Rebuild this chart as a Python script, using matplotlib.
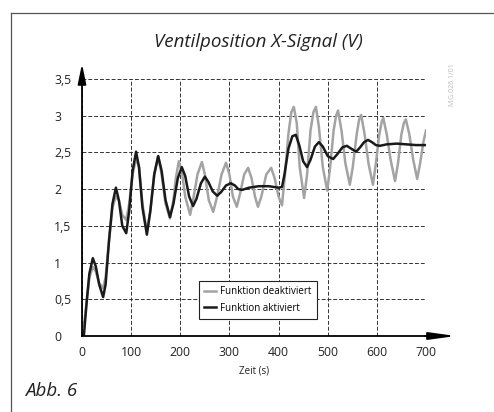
import matplotlib
matplotlib.use("Agg")
import matplotlib.pyplot as plt
from matplotlib.lines import Line2D

# Funktion aktiviert (schwarz)
t_on = [0, 4, 10, 15, 22, 28, 35, 43, 48, 55, 62, 69, 75, 82, 90, 96, 103, 110,
        116, 123, 132, 139, 147, 155, 162, 170, 179, 186, 195, 203, 210, 218, 226,
        233, 242, 250, 257, 266, 275, 283, 293, 303, 311, 318, 326, 340, 360, 380,
        400, 407, 412, 420, 428, 435, 442, 450, 458, 465, 474, 482, 490, 500, 511,
        520, 530, 539, 548, 558, 566, 574, 582, 590, 598, 606, 620, 641, 660, 680, 698]
y_on = [0.0, 0.02, 0.5, 0.85, 1.06, 0.95, 0.7, 0.53, 0.7, 1.3, 1.8, 2.02, 1.85, 1.5,
        1.40, 1.7, 2.25, 2.51, 2.3, 1.75, 1.38, 1.7, 2.2, 2.45, 2.25, 1.85, 1.62, 1.8,
        2.15, 2.30, 2.18, 1.9, 1.77, 1.87, 2.08, 2.17, 2.1, 1.97, 1.91, 1.96, 2.05,
        2.08, 2.05, 2.0, 1.99, 2.02, 2.04, 2.04, 2.02, 2.03, 2.2, 2.55, 2.72, 2.74,
        2.6, 2.38, 2.30, 2.4, 2.58, 2.64, 2.58, 2.45, 2.41, 2.48, 2.57, 2.59, 2.55,
        2.51, 2.57, 2.64, 2.67, 2.64, 2.6, 2.59, 2.61, 2.62, 2.61, 2.60, 2.60]

# Funktion deaktiviert (grau)
t_off = [0, 5, 10, 15, 22, 28, 35, 43, 48, 55, 62, 69, 75, 82, 90, 96, 103, 110,
         116, 123, 132, 139, 147, 155, 162, 170, 179, 186, 191, 197, 203, 210, 220,
         226, 235, 244, 250, 258, 267, 275, 284, 293, 300, 307, 315, 322, 330, 338,
         345, 352, 358, 365, 375, 385, 392, 400, 407, 413, 420, 426, 431, 437, 443,
         452, 458, 465, 471, 476, 482, 490, 499, 505, 512, 517, 521, 528, 536, 545,
         551, 559, 564, 568, 575, 583, 592, 598, 605, 610, 613, 620, 628, 637, 643,
         650, 655, 659, 666, 674, 682, 688, 695, 700]
y_off = [0.1, 0.2, 0.5, 0.8, 0.94, 0.88, 0.72, 0.65, 0.8, 1.3, 1.75, 1.9, 1.85,
         1.65, 1.58, 1.8, 2.2, 2.42, 2.3, 1.8, 1.42, 1.7, 2.2, 2.45, 2.2, 1.8, 1.6,
         1.85, 2.15, 2.38, 2.25, 1.9, 1.65, 1.85, 2.2, 2.37, 2.2, 1.85, 1.69, 1.9,
         2.2, 2.36, 2.2, 1.9, 1.76, 1.95, 2.2, 2.29, 2.15, 1.9, 1.76, 1.9, 2.2, 2.29,
         2.15, 1.9, 1.78, 2.2, 2.75, 3.05, 3.12, 2.9, 2.3, 1.88, 2.2, 2.8, 3.05, 3.12,
         2.85, 2.3, 1.98, 2.3, 2.8, 3.0, 3.07, 2.8, 2.35, 2.06, 2.3, 2.75, 2.95, 3.01,
         2.75, 2.35, 2.06, 2.35, 2.75, 2.92, 2.97, 2.75, 2.4, 2.11, 2.35, 2.75, 2.9,
         2.95, 2.75, 2.4, 2.14, 2.35, 2.65, 2.8]

x_ticks = [0, 100, 200, 300, 400, 500, 600, 700]
y_ticks = [0, 0.5, 1, 1.5, 2, 2.5, 3, 3.5]
y_ticklabels = ["0", "0,5", "1", "1,5", "2", "2,5", "3", "3,5"]

plt.rcParams["font.family"] = ["Open Sans", "DejaVu Sans"]

W, H = 494, 412
fig = plt.figure(figsize=(W / 100, H / 100), dpi=100)
ax = fig.add_axes([82 / W, 1 - 336 / H, 344 / W, 257 / H])

ax.plot(t_off, y_off, color="#a3a3a3", lw=1.8, label="Funktion deaktiviert",
        solid_joinstyle="round")
ax.plot(t_on, y_on, color="#1a1a1a", lw=1.8, label="Funktion aktiviert",
        solid_joinstyle="round")

ax.set_xlim(0, 700)
ax.set_ylim(0, 3.5)
ax.set_xticks(x_ticks)
ax.set_yticks(y_ticks)
ax.set_yticklabels(y_ticklabels)
ax.tick_params(length=0, labelsize=8.8, colors="#222222")
ax.tick_params(axis="x", pad=7)
ax.tick_params(axis="y", pad=20)
for lbl in ax.get_yticklabels():
    lbl.set_horizontalalignment("left")
ax.grid(True, color="#333333", linestyle=(0, (4, 2)), linewidth=0.7)
for s in ["top", "right"]:
    ax.spines[s].set_visible(False)
for s in ["left", "bottom"]:
    ax.spines[s].set_linewidth(1.3)
ax.set_xlabel("Zeit (s)", fontsize=7, labelpad=5, color="#222222")

# Achsenpfeile
ax.annotate("", xy=(0, 1.07), xytext=(0, 0.99), xycoords="axes fraction",
            arrowprops=dict(arrowstyle="-|>,head_length=1.2,head_width=0.25",
                            color="black", lw=1.3), annotation_clip=False)
ax.annotate("", xy=(1.095, 0), xytext=(0.99, 0), xycoords="axes fraction",
            arrowprops=dict(arrowstyle="-|>,head_length=1.6,head_width=0.22",
                            color="black", lw=1.3), annotation_clip=False)

leg = ax.legend(loc="lower left", bbox_to_anchor=(0.34, 0.066), borderaxespad=0,
                fontsize=7, fancybox=False, framealpha=1, edgecolor="#222222",
                handlelength=1.2, handletextpad=0.4, borderpad=0.55,
                labelspacing=0.55)
leg.get_frame().set_linewidth(0.8)

fig.text(258 / W, 1 - 42 / H, "Ventilposition X-Signal (V)", ha="center",
         va="center", fontsize=13.5, style="italic", color="#222222")
fig.text(25 / W, 1 - 391 / H, "Abb. 6", ha="left", va="center", fontsize=13.5,
         style="italic", color="#222222")
fig.text(452 / W, 1 - 84 / H, "M.G.026.1/01", ha="center", va="center",
         fontsize=5, rotation=90, color="#bbbbbb")

# Rahmen
fig.add_artist(Line2D([11 / W, 11 / W], [0, 1 - 13 / H], color="#555555", lw=0.9))
fig.add_artist(Line2D([11 / W, 1], [1 - 13 / H, 1 - 13 / H], color="#555555", lw=0.9))

fig.savefig("out.png", dpi=100)
